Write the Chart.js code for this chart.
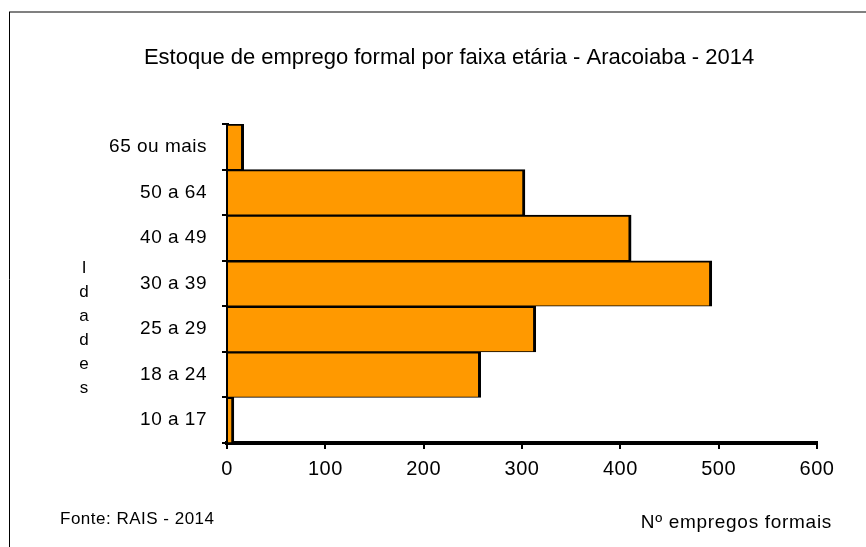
<!DOCTYPE html>
<html>
<head>
<meta charset="utf-8">
<script src="https://cdn.jsdelivr.net/npm/chart.js@4"></script>
<style>
    html, body { margin: 0; padding: 0; background: #fff; }
    #wrap { width: 866px; height: 547px; }
</style>
</head>
<body>
<div id="wrap"><canvas id="faixaChart" width="866" height="547"></canvas></div>
<script>
/*
 * Estoque de emprego formal por faixa etária - Aracoiaba - 2014
 * dados
 * */
const categorias = ['10 a 17', '18 a 24', '25 a 29', '30 a 39', '40 a 49', '50 a 64', '65 ou mais'];
const empregos = [7, 258, 314, 493, 411, 303, 17];
const eixoMin = 0;
const eixoMax = 600;
const eixoPasso = 100;

const titulo = 'Estoque de emprego formal por faixa etária - Aracoiaba - 2014';
const tituloEixoY = 'Idades';
const tituloEixoX = 'Nº empregos formais';
const fonte = 'Fonte: RAIS - 2014';

const familia = "'Liberation Sans', Arial, sans-serif";

/*
 * textos soltos (título, Idades, fonte) e moldura
 * */
const textosPlugin = {
    id: 'textos',
    beforeDraw(chart) {
        const ctx = chart.ctx;
        ctx.letterSpacing = '0.5px';
        ctx.save();
        // moldura
        ctx.strokeStyle = '#808080';
        ctx.lineWidth = 2;
        ctx.beginPath();
        ctx.moveTo(9, 12);
        ctx.lineTo(866, 12);
        ctx.stroke();
        ctx.strokeStyle = '#000';
        ctx.lineWidth = 1;
        ctx.beginPath();
        ctx.moveTo(9.5, 12);
        ctx.lineTo(9.5, 547);
        ctx.stroke();
        ctx.restore();
    },
    afterDraw(chart) {
        const ctx = chart.ctx;
        ctx.save();
        ctx.fillStyle = '#000';
        ctx.textBaseline = 'middle';

        ctx.letterSpacing = '0px';
        ctx.font = '22px ' + familia;
        ctx.textAlign = 'center';
        ctx.fillText(titulo, 449, 58);

        ctx.font = '17px ' + familia;
        tituloEixoY.split('').forEach((letra, i) => {
            ctx.fillText(letra, 84, 268 + i * 24);
        });

        ctx.letterSpacing = '0.5px';
        ctx.textAlign = 'left';
        ctx.fillText(fonte, 60, 519);

        ctx.letterSpacing = '0.7px';
        ctx.font = '19px ' + familia;
        ctx.textAlign = 'right';
        ctx.fillText(tituloEixoX, 832, 523);
        ctx.restore();
    }
};

document.addEventListener("DOMContentLoaded", function() {
    const ctx = document.getElementById('faixaChart').getContext('2d');

    new Chart(ctx, {
        type: 'bar',
        data: {
            labels: categorias,
            datasets: [{
                label: 'Empregos',
                data: empregos,
                backgroundColor: '#FF9900',
                borderColor: '#000',
                borderWidth: { top: 2, bottom: 1, right: 3, left: 0 },
                borderSkipped: 'start',
                barPercentage: 1,
                categoryPercentage: 1
            }]
        },
        options: {
            indexAxis: 'y',
            responsive: false,
            animation: false,
            devicePixelRatio: 1,
            layout: { padding: { top: 124, right: 49, left: 0, bottom: 0 } },
            plugins: {
                legend: { display: false },
                title: { display: false },
                tooltip: { enabled: false }
            },
            scales: {
                y: {
                    reverse: true,
                    afterFit(scale) { scale.width = 227; },
                    border: { display: true, color: '#000', width: 3 },
                    grid: {
                        offset: true,
                        drawOnChartArea: false,
                        drawTicks: true,
                        tickLength: 5,
                        color: '#000',
                        lineWidth: 2
                    },
                    ticks: {
                        color: '#000',
                        padding: 15,
                        font: { family: familia, size: 19 }
                    }
                },
                x: {
                    min: eixoMin,
                    max: eixoMax,
                    afterFit(scale) { scale.height = 104; },
                    border: { display: true, color: '#000', width: 4 },
                    grid: {
                        drawOnChartArea: false,
                        drawTicks: true,
                        tickLength: 6,
                        color: '#000',
                        lineWidth: 2
                    },
                    ticks: {
                        stepSize: eixoPasso,
                        color: '#000',
                        padding: 8,
                        font: { family: familia, size: 20 }
                    }
                }
            }
        },
        plugins: [textosPlugin]
    });
});
</script>
</body>
</html>
